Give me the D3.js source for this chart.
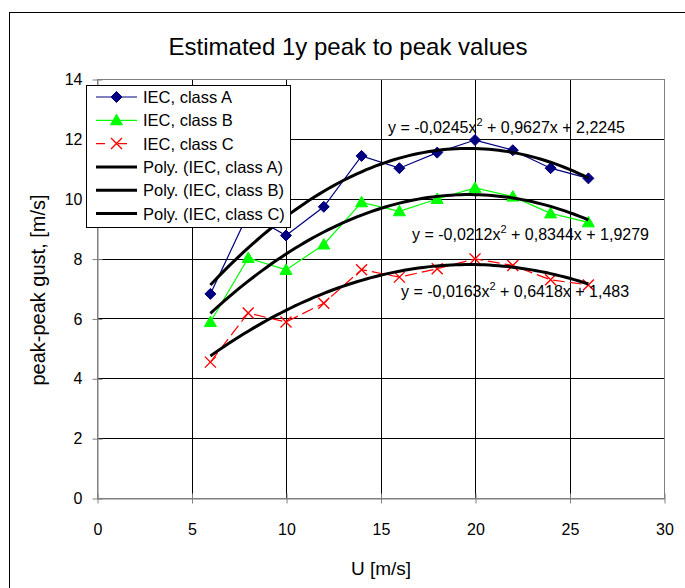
<!DOCTYPE html>
<html>
<head>
<meta charset="utf-8">
<script src="https://cdn.jsdelivr.net/npm/d3@7"></script>
<style>
  html, body { margin: 0; padding: 0; background: #fff; }
  svg { display: block; font-family: "Liberation Sans", Arial, sans-serif; }
</style>
</head>
<body>
<svg id="chart" width="685" height="588"></svg>
<script>
// ---- data ----
const windSpeed = [6, 8, 10, 12, 14, 16, 18, 20, 22, 24, 26];
const classA = [6.82, 9.5, 8.77, 9.73, 11.43, 11.02, 11.54, 11.96, 11.62, 11.02, 10.68];
const classB = [5.88, 8.02, 7.62, 8.47, 9.88, 9.58, 9.99, 10.36, 10.07, 9.51, 9.21];
const classC = [4.54, 6.18, 5.88, 6.51, 7.63, 7.38, 7.66, 7.99, 7.77, 7.29, 7.12];
// trendline coefficients [a, b, c] for y = a x^2 + b x + c (as printed on chart)
const polyA = [-0.0245, 0.9627, 2.2245];
const polyB = [-0.0212, 0.8344, 1.9279];
const polyC = [-0.0163, 0.6418, 1.483];
const seriesNames = ["IEC, class A", "IEC, class B", "IEC, class C"];
const xTicks = [0, 5, 10, 15, 20, 25, 30];
const yTicks = [0, 2, 4, 6, 8, 10, 12, 14];
const titleText = "Estimated 1y peak to peak values";
const xTitle = "U [m/s]";
const yTitle = "peak-peak gust, [m/s]";

// ---- layout ----
const svg = d3.select("#chart");
const L = 97, R = 664, T = 79, B = 498;
const x = d3.scaleLinear().domain([0, 30]).range([L, R]);
const y = d3.scaleLinear().domain([0, 14]).range([B, T]);

svg.append("rect").attr("width", 685).attr("height", 588).attr("fill", "#fff");
// chart frame
svg.append("rect").attr("x", 9.5).attr("y", 12.5).attr("width", 700).attr("height", 600)
  .attr("fill", "none").attr("stroke", "#000").attr("stroke-width", 1);

// title
svg.append("text").attr("x", 348).attr("y", 55).attr("text-anchor", "middle")
  .attr("font-size", 24).attr("fill", "#000").text(titleText);

// gridlines
const grid = svg.append("g");
yTicks.filter(v => v > 0 && v < 14).forEach(v => {
  grid.append("line").attr("x1", L).attr("x2", R).attr("y1", Math.round(y(v)) + 0.5).attr("y2", Math.round(y(v)) + 0.5)
    .attr("stroke", "#000").attr("stroke-width", 1);
});
xTicks.filter(v => v > 0 && v < 30).forEach(v => {
  grid.append("line").attr("y1", T).attr("y2", B).attr("x1", Math.round(x(v)) + 0.5).attr("x2", Math.round(x(v)) + 0.5)
    .attr("stroke", "#000").attr("stroke-width", 1);
});
// plot border
svg.append("rect").attr("x", L + 0.5).attr("y", T + 0.5).attr("width", R - L).attr("height", B - T)
  .attr("fill", "none").attr("stroke", "#808080").attr("stroke-width", 1);

// axes
const xAxis = d3.axisBottom(x).tickValues(xTicks).tickSizeInner(5).tickSizeOuter(0).tickPadding(20);
const gx = svg.append("g").attr("transform", `translate(0.5,${B + 0.5})`).call(xAxis);
gx.selectAll(".tick line").attr("y1", -5).attr("stroke", "#808080");
gx.select(".domain").attr("stroke", "#808080");
gx.selectAll("text").attr("font-size", 16).attr("fill", "#000").attr("font-family", "Liberation Sans, Arial, sans-serif");

const yAxis = d3.axisLeft(y).tickValues(yTicks).tickSizeInner(5).tickSizeOuter(0).tickPadding(10);
const gy = svg.append("g").attr("transform", `translate(${L + 0.5},0.5)`).call(yAxis);
gy.selectAll(".tick line").attr("x1", 5).attr("stroke", "#808080");
gy.select(".domain").attr("stroke", "#808080");
gy.selectAll("text").attr("font-size", 16).attr("fill", "#000").attr("font-family", "Liberation Sans, Arial, sans-serif");

// axis titles
svg.append("text").attr("x", 381).attr("y", 575).attr("text-anchor", "middle")
  .attr("font-size", 19).attr("fill", "#000").text(xTitle);
svg.append("text").attr("transform", "translate(45,290) rotate(-90)").attr("text-anchor", "middle")
  .attr("font-size", 20).attr("fill", "#000").text(yTitle);

// series
const series = [
  { name: seriesNames[0], vals: classA, color: "#000080", dash: null, marker: "diamond", poly: polyA },
  { name: seriesNames[1], vals: classB, color: "#00FF00", dash: null, marker: "triangle", poly: polyB },
  { name: seriesNames[2], vals: classC, color: "#FF0000", dash: "12,5", marker: "x", poly: polyC }
];
const line = d3.line().x(d => x(d[0])).y(d => y(d[1]));

function drawMarker(g, type, cx, cy, color) {
  if (type === "diamond") {
    g.append("path").attr("d", `M${cx},${cy - 5.5}L${cx + 5.5},${cy}L${cx},${cy + 5.5}L${cx - 5.5},${cy}Z`)
      .attr("fill", color).attr("stroke", color);
  } else if (type === "triangle") {
    g.append("path").attr("d", `M${cx},${cy - 6}L${cx + 6},${cy + 4.5}L${cx - 6},${cy + 4.5}Z`)
      .attr("fill", color).attr("stroke", color);
  } else {
    g.append("path").attr("d", `M${cx - 5.5},${cy - 5.5}L${cx + 5.5},${cy + 5.5}M${cx + 5.5},${cy - 5.5}L${cx - 5.5},${cy + 5.5}`)
      .attr("fill", "none").attr("stroke", color).attr("stroke-width", 1.4);
  }
}

const gSeries = svg.append("g");
series.forEach(s => {
  const pts = windSpeed.map((w, i) => [w, s.vals[i]]);
  gSeries.append("path").attr("d", line(pts)).attr("fill", "none").attr("stroke", s.color)
    .attr("stroke-width", 1.2).attr("stroke-dasharray", s.dash);
});
series.forEach(s => {
  windSpeed.forEach((w, i) => drawMarker(gSeries, s.marker, x(w), y(s.vals[i]), s.color));
});

// trendlines
const xMin = d3.min(windSpeed), xMax = d3.max(windSpeed);
series.forEach(s => {
  const [a, b, c] = s.poly;
  const pts = d3.range(xMin, xMax + 0.001, 0.25).map(u => [u, a * u * u + b * u + c]);
  svg.append("path").attr("d", line(pts)).attr("fill", "none").attr("stroke", "#000")
    .attr("stroke-width", 3).attr("stroke-linejoin", "round");
});

// equation labels
function fmt(v) { return String(Math.abs(v)).replace(".", ","); }
const eqPos = [[388, 133], [412, 240], [401, 297]];
series.forEach((s, i) => {
  const [a, b, c] = s.poly;
  const t = svg.append("text").attr("x", eqPos[i][0]).attr("y", eqPos[i][1])
    .attr("font-size", 16).attr("fill", "#000");
  t.append("tspan").text(`y = ${a < 0 ? "-" : ""}${fmt(a)}x`);
  t.append("tspan").attr("dy", -7).attr("font-size", 11).text("2");
  t.append("tspan").attr("dy", 7).text(` ${b < 0 ? "-" : "+"} ${fmt(b)}x ${c < 0 ? "-" : "+"} ${fmt(c)}`);
});

// legend
const lg = svg.append("g");
lg.append("rect").attr("x", 86.5).attr("y", 85.5).attr("width", 204).attr("height", 142)
  .attr("fill", "#fff").attr("stroke", "#000").attr("stroke-width", 1);
const legendItems = series.map(s => ({ label: s.name, s, trend: false }))
  .concat(series.map(s => ({ label: `Poly. (${s.name})`, s, trend: true })));
legendItems.forEach((it, i) => {
  const cy = 97 + i * 23.3;
  if (it.trend) {
    lg.append("line").attr("x1", 96).attr("x2", 137).attr("y1", cy).attr("y2", cy)
      .attr("stroke", "#000").attr("stroke-width", 3);
  } else {
    lg.append("line").attr("x1", 96).attr("x2", 137).attr("y1", cy).attr("y2", cy)
      .attr("stroke", it.s.color).attr("stroke-width", 1.2).attr("stroke-dasharray", it.s.dash ? "9,13" : null);
    drawMarker(lg, it.s.marker, 116.5, cy, it.s.color);
  }
  lg.append("text").attr("x", 143).attr("y", cy + 6).attr("font-size", 16.5).attr("fill", "#000").text(it.label);
});
</script>
</body>
</html>
